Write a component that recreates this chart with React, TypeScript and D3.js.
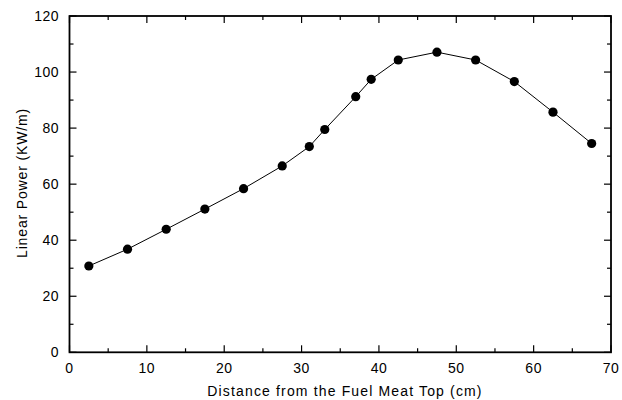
import React from "react";
import * as d3 from "d3";

const distances = [2.5, 7.5, 12.5, 17.5, 22.5, 27.5, 31, 33, 37, 39, 42.5, 47.5, 52.5, 57.5, 62.5, 67.5];
const powers = [30.8, 36.8, 43.9, 51.1, 58.4, 66.5, 73.4, 79.5, 91.2, 97.4, 104.3, 107.1, 104.3, 96.6, 85.7, 74.5];
const xTicks = [0, 10, 20, 30, 40, 50, 60, 70];
const xMinor = [5, 15, 25, 35, 45, 55, 65];
const yTicks = [0, 20, 40, 60, 80, 100, 120];
const yMinor = [10, 30, 50, 70, 90, 110];
const xLabel = "Distance from the Fuel Meat Top (cm)";
const yLabel = "Linear Power (KW/m)";

export default function App() {
  const W = 622, H = 400;
  const m = { left: 69.5, right: 611, top: 16, bottom: 352.3 };
  const x = d3.scaleLinear().domain([0, 70]).range([m.left, m.right]);
  const y = d3.scaleLinear().domain([0, 120]).range([m.bottom, m.top]);
  const pts = distances.map((d, i) => [x(d), y(powers[i])] as [number, number]);
  const line = d3.line()(pts) || "";
  const font = "Liberation Sans, Arial, sans-serif";
  const major = 7, minor = 4;
  return (
    <svg width={W} height={H} style={{ position: "absolute", left: 0, top: 0 }} fontFamily={font}>
      <rect x={0} y={0} width={W} height={H} fill="#fff" />
      {xTicks.map((t) => (
        <g key={"xt" + t}>
          <line x1={x(t)} x2={x(t)} y1={m.bottom} y2={m.bottom - major} stroke="#000" strokeWidth={1.2} />
          <line x1={x(t)} x2={x(t)} y1={m.top} y2={m.top + major} stroke="#000" strokeWidth={1.2} />
          <text x={x(t)} y={373} fontSize={14} textAnchor="middle" fill="#000" letterSpacing={0.5}>{t}</text>
        </g>
      ))}
      {xMinor.map((t) => (
        <g key={"xm" + t}>
          <line x1={x(t)} x2={x(t)} y1={m.bottom} y2={m.bottom - minor} stroke="#000" strokeWidth={1.2} />
          <line x1={x(t)} x2={x(t)} y1={m.top} y2={m.top + minor} stroke="#000" strokeWidth={1.2} />
        </g>
      ))}
      {yTicks.map((t) => (
        <g key={"yt" + t}>
          <line x1={m.left} x2={m.left + major} y1={y(t)} y2={y(t)} stroke="#000" strokeWidth={1.2} />
          <line x1={m.right} x2={m.right - major} y1={y(t)} y2={y(t)} stroke="#000" strokeWidth={1.2} />
          <text x={59} y={y(t)} dy="0.36em" fontSize={14} textAnchor="end" fill="#000" letterSpacing={0.5}>{t}</text>
        </g>
      ))}
      {yMinor.map((t) => (
        <g key={"ym" + t}>
          <line x1={m.left} x2={m.left + minor} y1={y(t)} y2={y(t)} stroke="#000" strokeWidth={1.2} />
          <line x1={m.right} x2={m.right - minor} y1={y(t)} y2={y(t)} stroke="#000" strokeWidth={1.2} />
        </g>
      ))}
      <rect x={m.left} y={m.top} width={m.right - m.left} height={m.bottom - m.top} fill="none" stroke="#000" strokeWidth={1.8} />
      <path d={line} fill="none" stroke="#000" strokeWidth={1} />
      {pts.map((p, i) => (
        <circle key={i} cx={p[0]} cy={p[1]} r={4.6} fill="#000" />
      ))}
      <text x={345} y={396} fontSize={14} textAnchor="middle" fill="#000" letterSpacing={1.15}>{xLabel}</text>
      <text transform={`translate(27,183) rotate(-90)`} fontSize={14} textAnchor="middle" fill="#000" letterSpacing={0.85}>{yLabel}</text>
    </svg>
  );
}
